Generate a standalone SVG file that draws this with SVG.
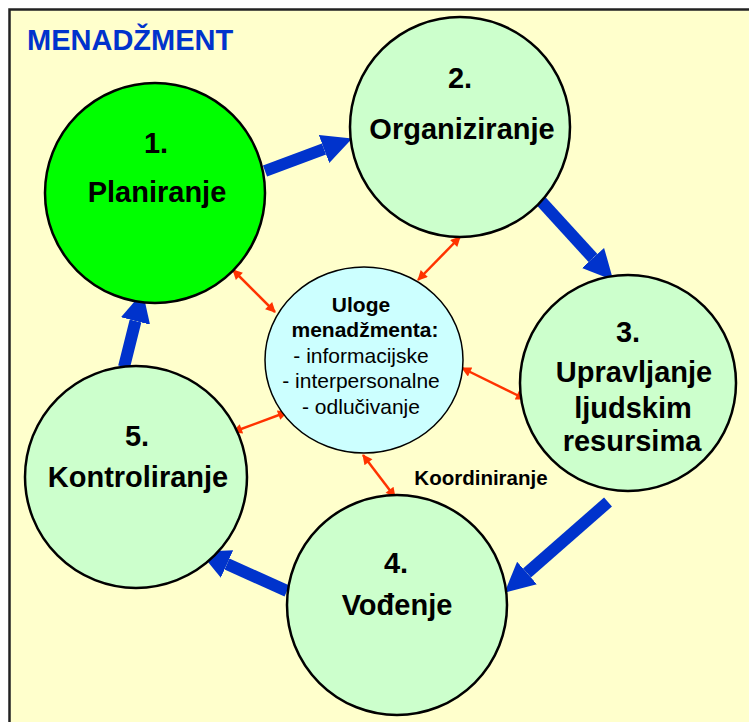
<svg xmlns="http://www.w3.org/2000/svg" width="749" height="722" viewBox="0 0 749 722">
<style>
.node{stroke:#000;stroke-width:2.5}
.lbl{font-family:"Liberation Sans",Arial,sans-serif;font-weight:bold;font-size:29px;text-anchor:middle;fill:#000}
.ctr{font-family:"Liberation Sans",Arial,sans-serif;font-size:21px;text-anchor:middle;fill:#000}
.big{stroke:#0033CC;stroke-width:12;fill:none;marker-end:url(#bh)}
.red{stroke:#FF3300;stroke-width:2.5;fill:none;marker-start:url(#rh);marker-end:url(#rh)}
</style>
<defs>
<marker id="bh" viewBox="0 0 10 10" refX="0" refY="5" markerWidth="2.5" markerHeight="2.7" orient="auto" markerUnits="strokeWidth">
<path d="M0,0 L10,5 L0,10 z" fill="#0033CC"/>
</marker>
<marker id="rh" viewBox="0 0 10 10" refX="9" refY="5" markerWidth="12" markerHeight="10" orient="auto-start-reverse" markerUnits="userSpaceOnUse">
<path d="M0,0 L10,5 L0,10 z" fill="#FF3300"/>
</marker>
</defs>
<rect x="0" y="0" width="749" height="722" fill="#fff"/>
<rect x="9.5" y="9.5" width="760" height="730" fill="#FFFFCC" stroke="#222" stroke-width="2.5"/>
<text x="27" y="50" font-family="'Liberation Sans',Arial,sans-serif" font-weight="bold" font-size="29" fill="#0033CC">MENADŽMENT</text>
<g id="connectors">
<line class="big" x1="265" y1="171" x2="324" y2="149"/>
<line class="big" x1="540" y1="200" x2="593" y2="258"/>
<line class="big" x1="608" y1="502" x2="527" y2="573"/>
<line class="big" x1="287" y1="591" x2="227" y2="564"/>
<line class="big" x1="124" y1="367" x2="135.5" y2="321"/>
<line class="red" x1="233" y1="270" x2="275" y2="312"/>
<line class="red" x1="460" y1="237" x2="418" y2="280"/>
<line class="red" x1="462" y1="368" x2="525" y2="399"/>
<line class="red" x1="287" y1="412" x2="233" y2="432"/>
<line class="red" x1="363" y1="455" x2="395" y2="497"/>
</g>
<g id="n1">
<circle class="node" cx="155" cy="193" r="110" fill="#00FF00"/>
<text class="lbl" x="156" y="153">1.</text>
<text class="lbl" x="157" y="202">Planiranje</text>
</g>
<g id="n2">
<circle class="node" cx="460" cy="127" r="110" fill="#CCFFCC"/>
<text class="lbl" x="460" y="88">2.</text>
<text class="lbl" x="462" y="139">Organiziranje</text>
</g>
<g id="n3">
<circle class="node" cx="628" cy="383" r="108" fill="#CCFFCC"/>
<text class="lbl" x="628" y="342">3.</text>
<text class="lbl" x="634" y="382">Upravljanje</text>
<text class="lbl" x="633" y="418">ljudskim</text>
<text class="lbl" x="632" y="451">resursima</text>
</g>
<g id="n4">
<circle class="node" cx="397" cy="605" r="110" fill="#CCFFCC"/>
<text class="lbl" x="396" y="573">4.</text>
<text class="lbl" x="397" y="615">Vođenje</text>
</g>
<g id="n5">
<circle class="node" cx="136" cy="477" r="111" fill="#CCFFCC"/>
<text class="lbl" x="137" y="446">5.</text>
<text class="lbl" x="138" y="487">Kontroliranje</text>
</g>
<g id="center">
<ellipse cx="364" cy="360" rx="99" ry="93" fill="#CCFFFF" stroke="#000" stroke-width="1.5"/>
<text class="ctr" x="361" y="312" font-weight="bold">Uloge</text>
<text class="ctr" x="365" y="337" font-weight="bold">menadžmenta:</text>
<text class="ctr" x="361" y="363">- informacijske</text>
<text class="ctr" x="361" y="388">- interpersonalne</text>
<text class="ctr" x="361" y="414">- odlučivanje</text>
</g>
<text x="481" y="485" font-family="'Liberation Sans',Arial,sans-serif" font-weight="bold" font-size="20.5" text-anchor="middle" fill="#000">Koordiniranje</text>
</svg>
